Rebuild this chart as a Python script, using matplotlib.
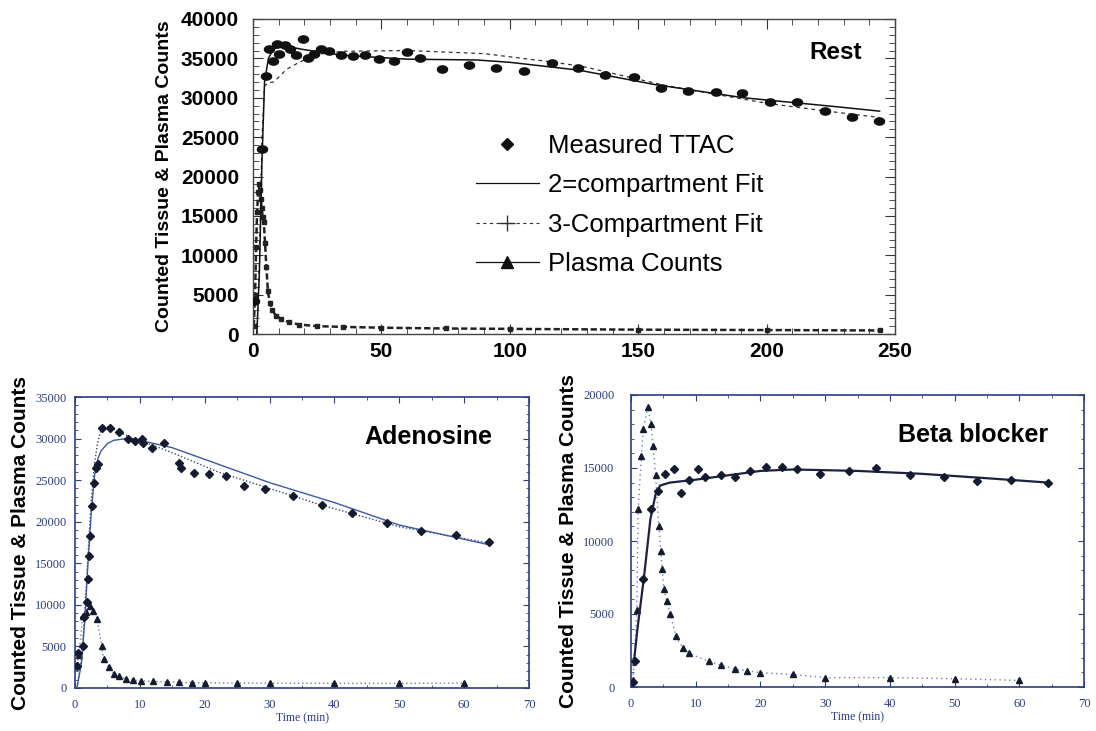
import numpy as np
import matplotlib
matplotlib.use("Agg")
import matplotlib.pyplot as plt
from matplotlib.lines import Line2D
from matplotlib.ticker import MultipleLocator

plt.rcParams['font.family'] = ['Liberation Sans', 'DejaVu Sans']

# ---- Rest (top panel) ----
rest_t = [0.5, 3.6, 4.9, 6.1, 7.7, 9.3, 10.3, 12.3, 14.4, 16.6, 19.5, 21.4, 23.9, 26.6, 29.5,
          34.2, 38.8, 43.5, 49.1, 54.8, 59.9, 65.2, 73.7, 84.2, 94.6, 105.7, 116.3, 126.5,
          137.2, 148.2, 158.8, 169.3, 180.2, 190.6, 201.2, 211.8, 222.6, 233.4, 243.8]
rest_y = [4200, 23500, 32800, 36200, 34650, 36800, 35500, 36650, 36250, 35400, 37500, 35000,
          35600, 36250, 35950, 35400, 35300, 35400, 34950, 34650, 35750, 35000, 33700, 34100,
          33800, 33400, 34350, 33800, 32950, 32650, 31300, 30900, 30700, 30600, 29400, 29450,
          28350, 27600, 27100]

rest_fit2_t = [1.5, 2.5, 3.5, 4.5, 6, 8, 12, 20, 35, 60, 87, 100, 127, 156, 191, 226, 244]
rest_fit2_y = [0, 8000, 22000, 32000, 35000, 36200, 36600, 36100, 35400, 34900, 34800, 34500,
               33500, 31700, 30000, 28900, 28300]

rest_fit3_t = [1.5, 2.5, 3.5, 4.5, 6, 8, 10, 13, 18, 25, 35, 60, 90, 100, 115, 128, 140,
               160, 200, 221, 244]
rest_fit3_y = [0, 9000, 25000, 31500, 31900, 32000, 32600, 33600, 34500, 35500, 35900, 36000,
               35600, 35200, 34600, 34000, 33100, 31600, 29300, 28400, 27500]

rest_pl_t = [0.3, 0.8, 1.2, 1.6, 2.0, 2.3, 2.7, 3.0, 3.4, 3.8, 4.2, 4.7, 5.2, 5.8, 6.5, 7.5,
             9, 11, 14, 18, 25, 35, 50, 75, 100, 150, 200, 244]
rest_pl_y = [1000, 5000, 11000, 15500, 18000, 19000, 18300, 17200, 16000, 14800, 14200, 11500,
             8500, 5500, 4000, 3000, 2300, 1900, 1500, 1200, 1000, 900, 800, 700, 650, 550,
             500, 450]

# ---- Adenosine (bottom left) ----
ade_t = [0.3, 0.5, 1.2, 1.4, 1.8, 2.0, 2.1, 2.3, 2.6, 2.9, 3.2, 3.5, 4.1, 5.4, 6.8, 8.2, 9.2,
         10.4, 10.5, 11.8, 13.7, 16.1, 16.3, 18.4, 20.6, 23.3, 26.1, 29.3, 33.6, 38.1, 42.7,
         48.1, 53.4, 58.8, 63.9]
ade_y = [2600, 4200, 5100, 8500, 10300, 13100, 15900, 18300, 21900, 24700, 26500, 26900,
         31300, 31300, 30800, 30000, 29700, 30000, 29500, 28900, 29500, 27100, 26500, 25900,
         25700, 25500, 24300, 23900, 23100, 22000, 21000, 19800, 18900, 18400, 17600]

ade_fit2_t = [0.3, 1, 1.5, 2, 2.5, 3, 3.5, 4, 5, 6, 8, 10, 15, 20, 30, 40, 50, 64]
ade_fit2_y = [0, 3000, 8000, 15000, 21000, 25500, 27500, 28500, 29400, 29800, 30000, 29800,
              28900, 27500, 24700, 22300, 19600, 17200]

ade_fit3_t = [0.3, 1, 1.5, 2, 2.5, 3, 3.5, 4, 4.5, 5.5, 7, 9, 12, 15, 22, 30, 38, 50, 64]
ade_fit3_y = [0, 3500, 9000, 16000, 22500, 27000, 29500, 31000, 31500, 31300, 30700, 30000,
              29200, 28300, 26000, 24000, 22000, 19400, 17400]

ade_pl_t = [0.3, 0.6, 1.2, 1.7, 2.3, 2.8, 3.4, 4.1, 4.4, 5.2, 6.0, 6.8, 7.8, 8.9, 10.2,
            12.1, 14.2, 16, 18, 20, 25, 30, 40, 50, 60]
ade_pl_y = [2800, 4000, 8700, 9100, 9900, 9300, 8300, 5100, 3500, 2500, 1700, 1400, 1100,
            950, 850, 800, 750, 700, 650, 620, 600, 580, 560, 560, 580]

# ---- Beta blocker (bottom right) ----
bb_t = [0.3, 0.6, 1.8, 3.1, 4.1, 5.3, 6.6, 7.7, 9.0, 10.4, 11.4, 13.9, 16.0, 18.4, 20.8,
        23.4, 25.7, 29.2, 33.7, 37.8, 43.1, 48.3, 53.5, 58.7, 64.4]
bb_y = [350, 1800, 7400, 12200, 13400, 14600, 14900, 13300, 14200, 14900, 14400, 14500,
        14400, 14800, 15100, 15100, 14900, 14600, 14800, 15000, 14500, 14400, 14100, 14200,
        14000]

bb_fit_t = [0.4, 1, 2, 3, 3.8, 4.5, 6, 8, 10, 15, 20, 25, 35, 45, 55, 64.5]
bb_fit_y = [1500, 4000, 7500, 11500, 13200, 13800, 14000, 14100, 14200, 14500, 14800, 14900,
            14800, 14600, 14300, 14000]

bb_pl_t = [0.3, 0.9, 1.1, 1.6, 1.9, 2.6, 3.1, 3.4, 3.8, 4.3, 4.6, 4.8, 5.1, 5.5, 6.1, 6.9,
           8.0, 9.0, 12, 13.9, 16, 18, 20, 25, 30, 40, 50, 60]
bb_pl_y = [500, 5300, 12200, 15800, 17700, 19200, 18000, 16500, 14500, 11000, 9300, 8100,
           6700, 5900, 5000, 3500, 2700, 2300, 1750, 1500, 1250, 1100, 980, 860, 640, 640,
           570, 450]

# ellipse-ish marker for measured points
th = np.linspace(0, 2 * np.pi, 30)
ell = list(zip(1.4 * np.cos(th), np.sin(th)))

fig = plt.figure(figsize=(10.96, 7.31), dpi=100)

# ================= top panel =================
ax = fig.add_axes([253 / 1096, 1 - 334 / 731, 642 / 1096, 315 / 731])
ax.plot(rest_pl_t, rest_pl_y, color='#222222', lw=1.8, ls=(0, (2.5, 1.2)),
        marker='s', ms=2.2, zorder=2)
ax.plot(rest_fit3_t, rest_fit3_y, color='#333333', lw=0.9, ls=(0, (3, 3)), zorder=3)
ax.plot(rest_fit2_t, rest_fit2_y, color='#111111', lw=1.1, zorder=3)
ax.plot(rest_t, rest_y, ls='none', marker=ell, ms=7.3, color='#111111', zorder=4)
ax.set_xlim(0, 250)
ax.set_ylim(0, 40000)
ax.xaxis.set_major_locator(MultipleLocator(50))
ax.xaxis.set_minor_locator(MultipleLocator(10))
ax.yaxis.set_major_locator(MultipleLocator(5000))
ax.yaxis.set_minor_locator(MultipleLocator(1000))
ax.tick_params(which='both', direction='in', top=True, right=True, color='#333333')
ax.tick_params(which='major', length=7, labelsize=15)
ax.tick_params(axis='y', which='major', pad=10)
ax.tick_params(axis='x', which='major', pad=6)
ax.tick_params(which='minor', length=4)
for lab in ax.get_xticklabels() + ax.get_yticklabels():
    lab.set_fontweight('bold')
for s in ax.spines.values():
    s.set_color('#444444')
    s.set_linewidth(1.0)
ax.set_ylabel('Counted Tissue & Plasma Counts', fontsize=14, fontweight='bold', labelpad=6)
ax.text((862 - 253) / 642, 0.893, 'Rest', transform=ax.transAxes, fontsize=17.5,
        fontweight='bold', ha='right', va='center')

handles = [
    Line2D([], [], ls='none', marker='D', ms=6.5, color='#111111'),
    Line2D([], [], color='#111111', lw=0.9),
    Line2D([], [], color='#333333', lw=0.8, ls=(0, (3, 3)), marker='+', ms=12,
           markevery=[1]),
    Line2D([], [], color='#111111', lw=0.9, marker='^', ms=9, markevery=[1]),
]
labels = ['Measured TTAC', '2=compartment Fit', '3-Compartment Fit', 'Plasma Counts']
fig.legend(handles, labels, loc='upper left', bbox_to_anchor=(476 / 1096, 1 - 134 / 731),
           frameon=False, handlelength=2.45, handletextpad=0.35,
           labelspacing=0.6, borderpad=0, borderaxespad=0,
           prop={'family': ['Liberation Sans'], 'size': 18.5})

# ================= bottom panels =================
navy = '#2c3d82'
dark = '#141a30'


def bottom_panel(rect, ymax, title, ypad):
    a = fig.add_axes(rect)
    a.set_xlim(0, 70)
    a.set_ylim(0, ymax)
    a.xaxis.set_major_locator(MultipleLocator(10))
    a.xaxis.set_minor_locator(MultipleLocator(5))
    a.yaxis.set_major_locator(MultipleLocator(5000))
    a.yaxis.set_minor_locator(MultipleLocator(1000))
    a.tick_params(which='both', direction='in', top=True, right=True, color=navy,
                  labelcolor=navy, labelsize=9)
    a.tick_params(which='major', length=4)
    a.tick_params(axis='y', which='major', pad=ypad)
    a.tick_params(axis='x', which='major', pad=8)
    a.tick_params(which='minor', length=2)
    for lab in a.get_xticklabels() + a.get_yticklabels():
        lab.set_family(['Liberation Serif'])
    for s in a.spines.values():
        s.set_color(navy)
        s.set_linewidth(1.2)
    a.set_xlabel('Time (min)', fontsize=8.5, color=navy, family=['Liberation Serif'],
                 labelpad=1)
    a.set_ylabel('Counted Tissue & Plasma Counts', fontsize=15, fontweight='bold',
                 labelpad=4)
    a.text(0.92, 0.862, title, transform=a.transAxes, fontsize=18, fontweight='bold',
           ha='right', va='center')
    return a


ax1 = bottom_panel([75 / 1096, 1 - 688 / 731, 454 / 1096, 291 / 731], 35000,
                   'Adenosine', 6)
ax1.plot(ade_pl_t, ade_pl_y, color='#6f7fa8', lw=1.0, ls=(0, (1, 2)), zorder=2)
ax1.plot(ade_pl_t, ade_pl_y, ls='none', marker='^', ms=4.5, color=dark, zorder=3)
ax1.plot(ade_fit3_t, ade_fit3_y, color='#3a4670', lw=1.0, ls=(0, (1, 1.5)), zorder=3)
ax1.plot(ade_fit2_t, ade_fit2_y, color='#3b5aa0', lw=1.0, zorder=3)
ax1.plot(ade_t, ade_y, ls='none', marker='D', ms=4.5, color=dark, zorder=4)

ax2 = bottom_panel([631 / 1096, 1 - 687 / 731, 453 / 1096, 292 / 731], 20000,
                   'Beta blocker', 12)
ax2.plot(bb_pl_t, bb_pl_y, color='#6f7fa8', lw=1.0, ls=(0, (1, 2.5)), zorder=2)
ax2.plot(bb_pl_t, bb_pl_y, ls='none', marker='^', ms=4.5, color=dark, zorder=3)
ax2.plot(bb_fit_t, bb_fit_y, color='#1c2240', lw=1.6, zorder=3)
ax2.plot(bb_t, bb_y, ls='none', marker='D', ms=4.5, color=dark, zorder=4)

fig.savefig('out.png', dpi=100)
